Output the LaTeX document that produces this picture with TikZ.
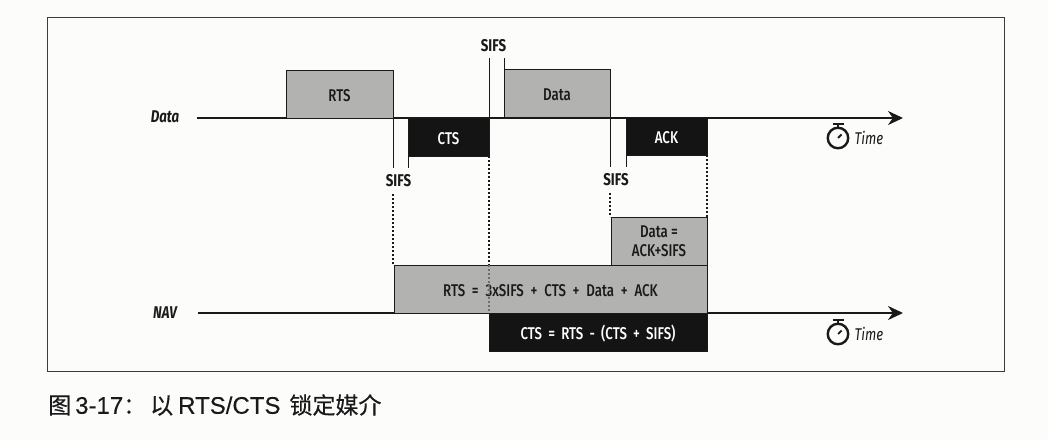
\documentclass[tikz,border=0pt]{standalone}
\usepackage{fontspec}
\setmainfont[FakeStretch=0.78,
  BoldFont={Fira Sans Bold}, BoldFeatures={FakeStretch=0.78},
  ItalicFont={Fira Sans Italic}, ItalicFeatures={FakeStretch=0.78},
  BoldItalicFont={Fira Sans Bold Italic}, BoldItalicFeatures={FakeStretch=0.78}]{Fira Sans Medium}
\newfontfamily\cjk[FakeBold=0.4]{Noto Sans CJK SC}
\newfontfamily\capfont[FakeBold=0.3]{Liberation Sans}
\usetikzlibrary{arrows.meta, positioning}
\definecolor{paper}{HTML}{FCFCFA}
\definecolor{ink}{HTML}{1A1A1A}
\definecolor{shade}{HTML}{B2B2B0}

\tikzset{
  frame/.style={draw=ink!85, line width=1pt},
  graybox/.style={draw=ink, line width=1pt, fill=shade, text=ink, inner sep=0pt, outer sep=0pt, anchor=north west, align=center, font=\fontsize{17}{19.5}\selectfont},
  blackbox/.style={draw=ink, line width=1pt, fill=black!92, text=white, inner sep=0pt, outer sep=0pt, anchor=north west, align=center, font=\fontsize{17}{21}\selectfont},
  oneline/.style={text height=15pt, text depth=0pt},
  sifslabel/.style={inner sep=0pt, text=ink, font=\bfseries\fontsize{17}{21}\selectfont},
  axislabel/.style={inner sep=0pt, text=ink, font=\bfseries\itshape\fontsize{17}{21}\selectfont},
  axisline/.style={draw=ink, line width=2pt, -{Stealth[length=15pt,width=14pt]}},
  tick/.style={draw=ink, line width=1pt},
  dots/.style={draw=ink, line width=2.2pt, dash pattern=on 2pt off 2pt},
  faintdots/.style={draw=ink!45!shade, line width=1.6pt, dash pattern=on 2pt off 2pt},
  clockface/.style={circle, draw=ink, line width=2.4pt, minimum size=20.5pt, inner sep=0pt},
}

\begin{document}
\begin{tikzpicture}[x=1pt, y=-1pt]
  \fill[paper] (0,0) rectangle (1048,440);
  \useasboundingbox (0,0) rectangle (1048,440);
  \draw[frame] (47,17) rectangle (1004,371);

  % data row
  \node[axislabel] (datalabel) at (165,117) {Data};
  \coordinate (datastart) at (197,118);
  \coordinate (dataend) at (903,118);
  \draw[axisline] (datastart) -- (dataend);

  \node[graybox, oneline, minimum width=107pt, minimum height=48pt] (rts) at (286,70) {RTS};
  \node[blackbox, oneline, minimum width=81pt, minimum height=38pt] (cts) at (408,118) {CTS};
  \node[graybox, oneline, minimum width=106pt, minimum height=48pt] (data) at (504,69) {Data};
  \node[blackbox, oneline, minimum width=81pt, minimum height=38pt] (ack) at (626,117) {ACK};

  % nav row
  \node[axislabel] (navlabel) at (165,313) {NAV};
  \coordinate (navstart) at (198,313);
  \coordinate (navend) at (903,313);
  \draw[axisline] (navstart) -- (navend);

  \node[graybox, oneline, minimum width=313pt, minimum height=48pt] (navrts) at (394,265) {\spaceskip=6.8pt RTS = 3xSIFS + CTS + Data + ACK};
  \node[graybox, minimum width=96pt, minimum height=48pt] (navdata) at (611,217) {Data =\\ACK+SIFS};
  \node[blackbox, oneline, minimum width=218pt, minimum height=38pt] (navcts) at (489,313) {\spaceskip=6.2pt CTS = RTS - (CTS + SIFS)};

  % sifs marks
  \node[sifslabel] (sifstop) at (493.5,46) {SIFS};
  \node[sifslabel] (sifsleft) at (398.5,181) {SIFS};
  \node[sifslabel] (sifsright) at (616,180) {SIFS};

  \coordinate (topa) at (cts.north east |- 0,58);
  \coordinate (topb) at (data.south west |- 0,58);
  \coordinate (lefta) at (rts.south east |- 0,168);
  \coordinate (leftb) at (cts.south west |- 0,168);
  \coordinate (righta) at (data.south east |- 0,167);
  \coordinate (rightb) at (ack.south west |- 0,167);
  \draw[tick] (topa) -- (cts.north east);
  \draw[tick] (topb) -- (data.south west);
  \draw[tick] (rts.south east) -- (lefta);
  \draw[tick] (cts.south west) -- (leftb);
  \draw[tick] (data.south east) -- (righta);
  \draw[tick] (ack.south west) -- (rightb);

  \coordinate (lefttail) at (rts.south east |- 0,194);
  \coordinate (righttail) at (data.south east |- 0,193);
  \coordinate (ctsdrop) at (cts.south east |- navrts.north);
  \draw[dots] (lefttail) -- (lefttail |- navrts.north);
  \draw[dots] (righttail) -- (righttail |- navdata.north);
  \draw[dots] (cts.south east) -- (ctsdrop);
  \draw[faintdots] (ctsdrop) -- (navcts.north west);
  \draw[dots] (ack.south east) -- (navdata.north east);

  % clocks
  \foreach \name/\y in {clockdata/138, clocknav/334} {
    \node[clockface] (\name) at (838,\y) {};
    \draw[ink, line width=2pt] (\name.north) -- ++(0,-3);
    \draw[ink, line width=2pt] ([xshift=-5.5pt,yshift=3pt]\name.north) -- ++(11,0);
    \draw[ink, line width=1.8pt] (\name.center) -- ++(3.5,-3.5);
    \node[axislabel, font=\itshape\fontsize{17}{21}\selectfont, right=5pt of \name] (\name time) {Time};
  }

  % caption
  \node[inner sep=0pt, anchor=west, text=ink, font=\fontsize{24}{28}\selectfont] (caption) at (48,405)
    {\capfont{\cjk\fontsize{23}{28}\selectfont 图}\hspace{4pt}3-17{\cjk\fontsize{23}{28}\selectfont ：}\hspace{4pt}{\cjk\fontsize{23}{28}\selectfont 以}\hspace{5pt}RTS/CTS\hspace{9pt}{\cjk\fontsize{23}{28}\selectfont 锁定媒介}};
\end{tikzpicture}
\end{document}
